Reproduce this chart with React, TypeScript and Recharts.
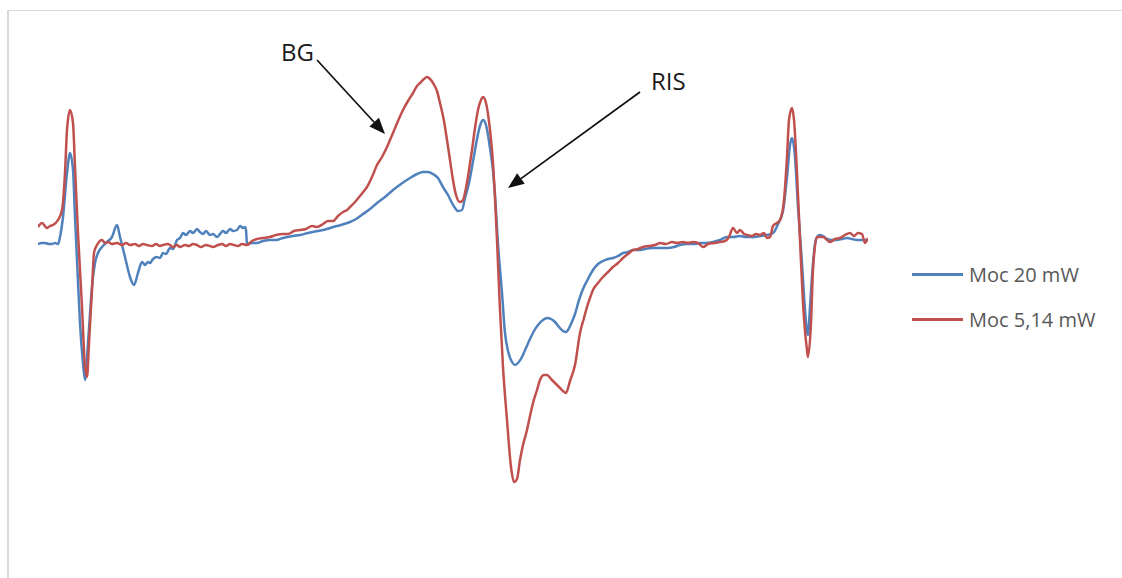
import React from 'react';
import { LineChart, Line, XAxis, YAxis, Legend, ReferenceLine } from 'recharts';

// EPR spectra recorded at two microwave powers (field position, signal in arbitrary units)
const blueX = [
  0, 4, 7, 11, 14, 17, 20, 22, 25, 29, 32, 35, 37, 39, 42, 45, 47, 50, 54, 57, 60, 64, 69, 74, 79, 82, 87, 92, 96,
  100, 104, 107, 110, 112, 115, 119, 122, 125, 128, 132, 135, 139, 142, 145, 148, 152, 155, 159, 162, 165, 168,
  172, 175, 179, 182, 185, 188, 192, 195, 199, 202, 205, 207, 208, 209, 214, 219, 225, 232, 238,
  245, 255, 262, 270, 280, 289, 295, 303, 312, 318, 325, 332, 339, 347, 355, 363, 372, 379, 385, 390, 395, 400,
  405, 410, 414, 417, 420, 424, 427, 431, 434, 437, 440, 443, 445, 448, 452, 455, 457,
  460, 464, 467, 470, 474, 477, 480, 484, 488, 492, 496, 500, 505, 509, 513, 517, 521, 525, 528, 530, 533, 537,
  541, 545, 550, 555, 560, 565, 570, 575, 580, 585, 590, 595, 601, 607, 614, 622, 630, 636,
  642, 650, 656, 662, 668, 675, 682, 689, 695, 702, 708, 715, 722, 729, 733, 736, 740, 745, 749, 752, 754, 757,
  760, 764, 767, 770, 772, 775, 778, 780, 782, 785, 789, 794, 799, 804, 809, 814, 819, 824, 829,
];
const blueY = [
  -1, 0, 0, -1, -1, 0, -1, 6, 26, 70, 90, 73, 26, -17, -80, -120, -137, -100, -44, -20, -10, -4, 1, 6, 18, 6, -14, -34, -42,
  -30, -19, -22, -19, -20, -16, -14, -15, -10, -11, -5, -6, 3, 5, 10, 8, 12, 10, 14, 11, 9, 12,
  8, 9, 6, 9, 12, 10, 14, 12, 13, 17, 15, 16, 13, -1, 0, 0, 2, 3, 3,
  5, 7, 8, 10, 12, 14, 16, 18, 21, 24, 29, 34, 40, 46, 53, 59, 65, 69, 71, 71, 69, 65,
  56, 48, 40, 35, 32, 33, 45, 60, 76, 93, 109, 120, 123, 118, 95, 72, 48,
  -1, -50, -90, -108, -119, -122, -120, -114, -105, -96, -88, -82, -77, -75, -76, -79, -84, -88, -89, -87, -81, -71,
  -57, -46, -36, -27, -21, -18, -16, -15, -13, -10, -9, -7, -7, -6, -5, -5, -5, -4,
  -2, -1, -1, 0, 0, 1, 3, 6, 6, 7, 6, 6, 7, 8, 9, 11, 19, 32, 66, 98, 105, 86,
  36, -20, -67, -92, -64, -20, 4, 7, 8, 7, 4, 3, 3, 4, 5, 4, 3, 3, 3,
];

const redX = [
  0, 4, 9, 12, 15, 20, 24, 27, 29, 32, 35, 37, 40, 44, 47, 49, 51, 54, 56, 59, 64, 67, 70, 74, 79, 84, 88, 92,
  97, 101, 105, 109, 114, 118, 122, 125, 130, 135, 139, 142, 147, 151, 155, 159, 163, 168, 172, 175, 180, 184,
  188, 192, 196, 200, 204, 209, 214, 219, 225, 232, 238, 245, 250, 256, 262, 268, 274, 279, 285, 290, 295, 300,
  305, 309, 312, 317, 322, 326, 329, 334, 339, 344, 349, 355, 360, 365, 370, 375, 379, 382, 386, 389, 392,
  395, 399, 402, 406, 409, 412, 415, 418, 422, 425, 428, 431, 434, 437, 440, 443, 445, 448, 452, 455, 459, 462,
  465, 469, 473, 476, 479, 482, 485, 489, 492, 495, 499, 502, 506, 509, 513, 517, 522, 525, 528, 532, 537, 542,
  546, 549, 552, 555, 560, 565, 570, 575, 580, 585, 590, 595, 600, 605, 611, 617, 622, 628, 634, 639, 645, 650,
  655, 660, 665, 670, 676, 682, 687, 691, 695, 699, 702, 706, 709, 714, 718, 722, 726, 729, 732, 735, 739, 742,
  746, 749, 751, 754, 756, 759, 762, 765, 769, 770, 773, 775, 779, 782, 785, 789, 792, 797, 802, 807, 812, 816,
  820, 824, 827, 830,
];
const redY = [
  16, 20, 15, 17, 18, 23, 33, 70, 113, 133, 120, 76, 10, -64, -124, -134, -100, -47, -10, -2, 3, 0, 1, -1, 0, -2, 0, -2,
  -1, -3, -1, -2, -3, -1, -3, -2, -1, -4, -2, -4, -2, -3, -1, -2, -4, -2, -3, -4, -2, -1,
  -3, -1, -2, -3, -1, -2, 2, 4, 5, 6, 8, 9, 9, 12, 13, 14, 17, 16, 19, 22, 22, 27,
  31, 33, 36, 41, 47, 52, 56, 66, 78, 86, 96, 110, 122, 133, 142, 150, 157, 160, 164, 166, 164,
  160, 152, 140, 122, 103, 83, 63, 48, 41, 43, 55, 73, 93, 115, 133, 143, 146, 140, 113, 80, 3, -67,
  -124, -177, -224, -239, -236, -217, -202, -187, -173, -160, -147, -137, -132, -132, -136, -140, -145, -148, -150, -138, -122, -90,
  -75, -64, -55, -47, -40, -34, -29, -24, -20, -15, -11, -7, -6, -4, -3, -2, 0, -1, 1, 0, 1, 0,
  1, 0, -4, -1, 0, 1, 2, 6, 15, 10, 13, 9, 8, 7, 9, 8, 10, 5, 6, 17, 20, 23,
  43, 86, 123, 135, 123, 70, 3, -60, -107, -114, -80, -27, 6, 6, 6, 3, 1, 4, 5, 8, 10, 7,
  10, 9, 0, 5,
];

const seriesNames = ['Moc 20 mW', 'Moc 5,14 mW'];
const seriesColors = ['#4F81BD', '#C0504D'];

// Arrow annotations: label, tail point, head point (in data units)
const noteLabels = ['BG', 'RIS'];
const noteTails = [
  { x: 279, y: 183 },
  { x: 602, y: 151 },
];
const noteHeads = [
  { x: 347, y: 109 },
  { x: 470, y: 55 },
];

const toPoints = (xs: number[], ys: number[]) => xs.map((x, i) => ({ x, y: ys[i] }));
const blueData = toPoints(blueX, blueY);
const redData = toPoints(redX, redY);

const FONT = '"Open Sans", "Liberation Sans", sans-serif';

const makeArrow = (label: string, textSide: 'left' | 'right') => (props: any) => {
  const { x1, y1, x2, y2 } = props;
  if ([x1, y1, x2, y2].some((v) => typeof v !== 'number' || Number.isNaN(v))) return <g />;
  const dx = x2 - x1;
  const dy = y2 - y1;
  const len = Math.hypot(dx, dy) || 1;
  const ux = dx / len;
  const uy = dy / len;
  const head = 16;
  const half = 6.5;
  const bx = x2 - ux * head;
  const by = y2 - uy * head;
  const pts = `${x2},${y2} ${bx - uy * half},${by + ux * half} ${bx + uy * half},${by - ux * half}`;
  const tx = textSide === 'left' ? x1 - 3 : x1 + 11;
  const ty = textSide === 'left' ? y1 + 1 : y1 - 2;
  return (
    <g>
      <line x1={x1} y1={y1} x2={bx} y2={by} stroke="#111" strokeWidth={1.75} />
      <polygon points={pts} fill="#111" />
      <text
        x={tx}
        y={ty}
        textAnchor={textSide === 'left' ? 'end' : 'start'}
        fontFamily={FONT}
        fontSize={24}
        fill="#1a1a1a"
      >
        {label}
      </text>
    </g>
  );
};

const LegendContent = () => (
  <div style={{ fontFamily: FONT }}>
    {seriesNames.map((name, i) => (
      <div key={name} style={{ display: 'flex', alignItems: 'center', height: 45 }}>
        <div style={{ width: 51, height: 2.5, background: seriesColors[i], marginRight: 6 }} />
        <span style={{ fontSize: 20, color: '#595959', whiteSpace: 'nowrap' }}>{name}</span>
      </div>
    ))}
  </div>
);

export default function App() {
  return (
    <div style={{ position: 'absolute', left: 0, top: 0, width: 1122, height: 578, overflow: 'hidden', background: '#fff' }}>
      <div
        style={{
          position: 'absolute',
          left: 7,
          top: 10,
          width: 1140,
          height: 600,
          borderLeft: '2px solid #d9d9d9',
          borderTop: '1.5px solid #d9d9d9',
        }}
      />
      <LineChart
        width={1122}
        height={578}
        margin={{ top: 20, right: 254, bottom: 85, left: 38 }}
        style={{ position: 'absolute', left: 0, top: 0 }}
      >
        <XAxis type="number" dataKey="x" domain={[0, 830]} hide allowDataOverflow />
        <YAxis type="number" dataKey="y" domain={[-250, 223]} hide allowDataOverflow />
        <Line
          data={blueData}
          dataKey="y"
          name={seriesNames[0]}
          stroke={seriesColors[0]}
          strokeWidth={2.5}
          dot={false}
          type="monotone"
          isAnimationActive={false}
        />
        <Line
          data={redData}
          dataKey="y"
          name={seriesNames[1]}
          stroke={seriesColors[1]}
          strokeWidth={2.5}
          dot={false}
          type="monotone"
          isAnimationActive={false}
        />
        {noteLabels.map((label, i) => (
          <ReferenceLine
            key={label}
            segment={[noteTails[i], noteHeads[i]]}
            ifOverflow="visible"
            stroke="#111"
            shape={makeArrow(label, i === 0 ? 'left' : 'right')}
          />
        ))}
        <Legend
          content={<LegendContent />}
          wrapperStyle={{ position: 'absolute', left: 912, top: 252, width: 210, height: 0, overflow: 'visible' }}
        />
      </LineChart>
    </div>
  );
}
